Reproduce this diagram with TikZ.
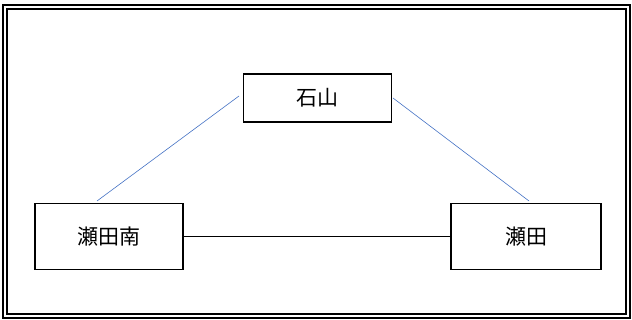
\documentclass[tikz,border=0pt]{standalone}
\usepackage{fontspec}
\setmainfont{Noto Sans CJK JP}
\usepackage{xcolor}
\usepackage{tikz}
\usetikzlibrary{positioning, calc}

\definecolor{linkblue}{HTML}{4472C4}

\begin{document}
\begin{tikzpicture}[
    x=1pt, y=-1pt,
    station/.style={rectangle, draw, line width=1.6pt, minimum width=148pt, inner sep=0pt, font=\fontsize{21}{25}\selectfont},
    rail/.style={draw, line width=1.2pt},
    link/.style={draw, linkblue, line width=0.6pt},
    frame/.style={draw, line width=1.6pt}
]
\useasboundingbox (0,0) rectangle (632,320);

% Cadre double
\path[frame] (3,5) rectangle (630,318);
\path[frame] (7,9) rectangle (626,314);

% Gares
\node[station, minimum height=48pt] (ishiyama) at (317.5,98) {石山};
\node[station, minimum height=66pt] (setaminami) at (109,236.5) {瀬田南};
\node[station, minimum height=66pt, minimum width=150pt] (seta) at (526,236.5) {瀬田};

% Extremites libres des liens
\coordinate (ishiyama_w) at (239,96);
\coordinate (ishiyama_e) at (393,98);
\coordinate (setaminami_n) at (97,201);
\coordinate (seta_n) at (529,201);

% Connexions
\path[rail] (setaminami.east) -- (seta.west);
\path[link] (ishiyama_w) -- (setaminami_n);
\path[link] (ishiyama_e) -- (seta_n);

\end{tikzpicture}
\end{document}
